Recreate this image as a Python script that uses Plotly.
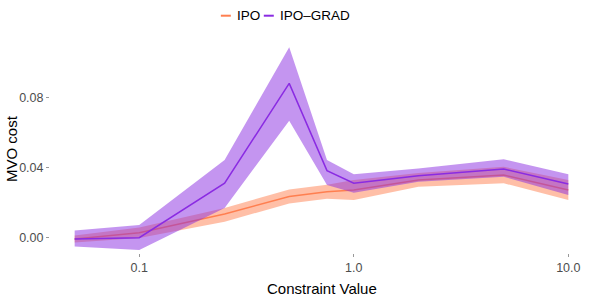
import plotly.graph_objects as go

# ---- data ----
constraint = [0.05, 0.1, 0.25, 0.5, 0.75, 1.0, 2.0, 5.0, 10.0]

ipo_mean  = [-0.0008, 0.0027, 0.0134, 0.0234, 0.0262, 0.0271, 0.0329, 0.0357, 0.0271]
ipo_lower = [-0.0028, -0.0003, 0.0090, 0.0195, 0.0222, 0.0214, 0.0290, 0.0310, 0.0214]
ipo_upper = [0.0012, 0.0057, 0.0169, 0.0275, 0.0302, 0.0328, 0.0368, 0.0404, 0.0328]

grad_mean  = [-0.0008, -0.0001, 0.0310, 0.0881, 0.0382, 0.0310, 0.0353, 0.0391, 0.0306]
grad_lower = [-0.0052, -0.0071, 0.0169, 0.0667, 0.0300, 0.0256, 0.0319, 0.0347, 0.0243]
grad_upper = [0.0040, 0.0071, 0.0443, 0.1087, 0.0443, 0.0361, 0.0395, 0.0447, 0.0361]

series_names = ["IPO", "IPO\u2013GRAD"]
line_colors = ["#FF7F50", "#8A2BE2"]
band_colors = ["rgba(255,127,80,0.5)", "rgba(138,43,226,0.5)"]

x_ticks = [0.1, 1.0, 10.0]
x_tick_labels = ["0.1", "1.0", "10.0"]
y_ticks = [0.00, 0.04, 0.08]
y_tick_labels = ["0.00", "0.04", "0.08"]
x_title = "Constraint Value"
y_title = "MVO cost"

fig = go.Figure()
groups = [(ipo_mean, ipo_lower, ipo_upper), (grad_mean, grad_lower, grad_upper)]
for i, (m, lo, up) in enumerate(groups):
    fig.add_trace(go.Scatter(x=constraint, y=up, mode="lines", line=dict(width=0),
                             showlegend=False, hoverinfo="skip"))
    fig.add_trace(go.Scatter(x=constraint, y=lo, mode="lines", line=dict(width=0),
                             fill="tonexty", fillcolor=band_colors[i],
                             showlegend=False, hoverinfo="skip"))
    fig.add_trace(go.Scatter(x=constraint, y=m, mode="lines", name=series_names[i],
                             line=dict(color=line_colors[i], width=1.5),
                             showlegend=False))

# layout geometry in pixels
L, R, T, B = 50, 4.5, 40, 46
W = 598 - L - R
H = 299 - T - B
def px(x):
    return (x - L) / W
def py(y):
    return (299 - B - y) / H

FONT = "Liberation Sans, Arial"

# custom legend (top, centred)
legend_items = [(221, 231, 236, series_names[0], line_colors[0]),
                (264, 274, 279, series_names[1], line_colors[1])]
for x0, x1, xt, name, col in legend_items:
    fig.add_shape(type="line", xref="paper", yref="paper",
                  x0=px(x0), x1=px(x1), y0=py(15.7), y1=py(15.7),
                  line=dict(color=col, width=2))
    fig.add_annotation(xref="paper", yref="paper", x=px(xt), y=py(15.7),
                       xanchor="left", yanchor="middle", showarrow=False,
                       text=name, borderpad=0,
                       font=dict(family=FONT, size=13.5, color="#000000"))

# axis titles
fig.add_annotation(xref="paper", yref="paper", x=px(322), y=py(288),
                   xanchor="center", yanchor="middle", showarrow=False, borderpad=0,
                   text=x_title, font=dict(family=FONT, size=15, color="#000000"))
fig.add_annotation(xref="paper", yref="paper", x=px(11), y=py(149),
                   xanchor="center", yanchor="middle", showarrow=False, borderpad=0,
                   textangle=-90,
                   text=y_title, font=dict(family=FONT, size=15, color="#000000"))

fig.update_layout(
    width=598, height=299,
    margin=dict(l=L, r=R, t=T, b=B),
    paper_bgcolor="white", plot_bgcolor="white",
    showlegend=False,
    font=dict(family=FONT, color="#000000"),
)
fig.update_xaxes(
    type="log", range=[-1.416, 1.115],
    tickvals=x_ticks, ticktext=x_tick_labels,
    showgrid=False, zeroline=False, showline=False,
    ticks="outside", ticklen=3, tickcolor="#999999", tickwidth=1,
    tickfont=dict(size=12.5, color="#4D4D4D"),
)
fig.update_yaxes(
    range=[-0.008857, 0.11286],
    tickvals=y_ticks, ticktext=y_tick_labels,
    showgrid=False, zeroline=False, showline=False,
    ticks="outside", ticklen=3, tickcolor="#999999", tickwidth=1,
    tickfont=dict(size=12.5, color="#4D4D4D"),
)

fig.write_html("out.html", config={"displayModeBar": False},
               post_script="document.body.style.margin='0';document.body.style.padding='0';")
